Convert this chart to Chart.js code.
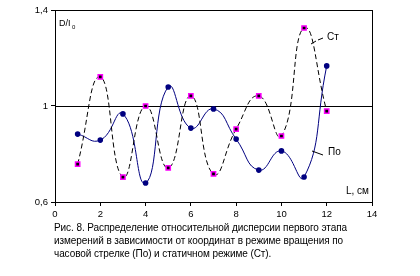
<!DOCTYPE html>
<html>
<head>
<meta charset="utf-8">
<script src="https://cdn.jsdelivr.net/npm/chart.js@4.4.1/dist/chart.umd.min.js"></script>
<style>
  html, body { margin: 0; padding: 0; background: #fff; }
  #wrap { position: relative; width: 420px; height: 276px; }
  #c { position: absolute; left: 0; top: 0; }
  #caption {
    position: absolute; left: 54px; top: 221px; width: 366px;
    font: 10px "Liberation Sans", Arial, sans-serif; line-height: 13px;
    color: #000; letter-spacing: -0.08px; white-space: nowrap;
  }
</style>
</head>
<body>
<div id="wrap">
  <canvas id="c" width="420" height="276"></canvas>
  <div id="caption">Рис. 8. Распределение относительной дисперсии первого этапа<br>измерений в зависимости от координат в режиме вращения по<br>часовой стрелке (По) и статичном режиме (Ст).</div>
</div>
<script>
// координата L, см
const positions = [1, 2, 3, 4, 5, 6, 7, 8, 9, 10, 11, 12];
// Ст - статичный режим
const stValues = [0.758, 1.121, 0.704, 1.0, 0.742, 1.042, 0.717, 0.904, 1.042, 0.875, 1.325, 0.979];
// По - вращение по часовой стрелке
const poValues = [0.883, 0.858, 0.967, 0.679, 1.079, 0.908, 0.988, 0.862, 0.733, 0.813, 0.704, 1.167];
const xTicks = [0, 2, 4, 6, 8, 10, 12, 14];
const yTicks = [0.6, 1, 1.4];

const toXY = vals => vals.map((v, i) => ({ x: positions[i], y: v }));
const FONT = '"Liberation Sans", Arial, sans-serif';

// рамка, линия на уровне 1 и подписи внутри графика
const extras = {
  id: 'extras',
  beforeDatasetsDraw(chart) {
    const { ctx, chartArea: a, scales } = chart;
    ctx.save();
    ctx.strokeStyle = '#000';
    ctx.lineWidth = 1;
    ctx.strokeRect(a.left + 0.5, a.top + 0.5, a.right - a.left, a.bottom - a.top);
    const y1 = Math.round(scales.y.getPixelForValue(1)) + 0.5;
    ctx.beginPath();
    ctx.moveTo(a.left, y1);
    ctx.lineTo(a.right, y1);
    ctx.stroke();
    ctx.restore();
  },
  afterDatasetsDraw(chart) {
    const { ctx, chartArea: a } = chart;
    ctx.save();
    ctx.fillStyle = '#000';
    ctx.font = '9px ' + FONT;
    ctx.textBaseline = 'middle';
    ctx.fillText('D/I', a.left + 4, 24);
    ctx.font = '6px ' + FONT;
    ctx.fillText('0', a.left + 17, 27);
    ctx.font = '10px ' + FONT;
    ctx.fillText('Ст', 327, 37);
    ctx.fillText('По', 328, 152);
    ctx.fillText('L, см', 346, 191);
    // выноски
    ctx.strokeStyle = '#000';
    ctx.lineWidth = 1;
    ctx.beginPath();
    ctx.moveTo(311, 44); ctx.lineTo(316, 41);
    ctx.moveTo(318, 40); ctx.lineTo(323, 38);
    ctx.moveTo(312, 151); ctx.lineTo(323, 155);
    ctx.stroke();
    ctx.restore();
  }
};

new Chart(document.getElementById('c'), {
  type: 'line',
  data: {
    datasets: [
      {
        label: 'Ст',
        data: toXY(stValues),
        borderColor: '#000',
        borderWidth: 1,
        borderDash: [5, 3],
        tension: 0.5,
        pointStyle: 'rect',
        pointRadius: 3,
        pointBorderWidth: 1.5,
        pointBorderColor: '#ff00ff',
        pointBackgroundColor: '#000'
      },
      {
        label: 'По',
        data: toXY(poValues),
        borderColor: '#000080',
        borderWidth: 1,
        tension: 0.5,
        pointStyle: 'circle',
        pointRadius: 2.8,
        pointBorderWidth: 0,
        pointBackgroundColor: '#000080'
      }
    ]
  },
  options: {
    responsive: false,
    animation: false,
    layout: { padding: { left: 0, right: 48, top: 10, bottom: 0 } },
    plugins: { legend: { display: false }, tooltip: { enabled: false } },
    scales: {
      x: {
        type: 'linear', min: 0, max: 14,
        afterFit: s => { s.height = 74; },
        afterBuildTicks: s => { s.ticks = xTicks.map(v => ({ value: v })); },
        grid: { display: true, drawOnChartArea: false, drawTicks: true, tickLength: 4, color: '#000' },
        border: { display: true, color: '#000' },
        ticks: { color: '#000', font: { size: 9.5, family: FONT }, padding: 3, maxRotation: 0 }
      },
      y: {
        min: 0.6, max: 1.4,
        afterFit: s => { s.width = 55; },
        afterBuildTicks: s => { s.ticks = yTicks.map(v => ({ value: v })); },
        grid: { display: true, drawOnChartArea: false, drawTicks: true, tickLength: 4, color: '#000' },
        border: { display: true, color: '#000' },
        ticks: {
          color: '#000', font: { size: 9.5, family: FONT }, padding: 3,
          callback: v => String(v).replace('.', ',')
        }
      }
    }
  },
  plugins: [extras]
});
</script>
</body>
</html>
